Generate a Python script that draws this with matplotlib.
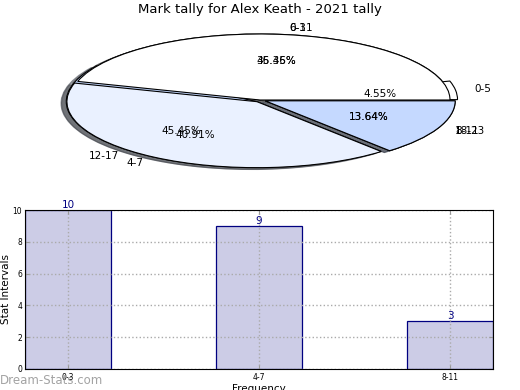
import matplotlib
matplotlib.use("Agg")
import matplotlib.pyplot as plt

title = "Mark tally for Alex Keath - 2021 tally"

# outer pie (drawn first)
pie_b_labels = ["0-5", "6-11", "12-17", "18-23"]
pie_b_values = [1, 8, 10, 3]
# front pie
pie_a_labels = ["0-3", "4-7", "8-11"]
pie_a_values = [10, 9, 3]

# bar chart
bar_labels = ["0-3", "4-7", "8-11"]
bar_values = [10, 9, 3]

fig = plt.figure(figsize=(5.2, 3.9), dpi=100)
fig.text(0.5, 1 - 10 / 390, title, ha="center", va="center", fontsize=9.5)

axp = fig.add_axes([22.5 / 520, 1 - 182.5 / 390, 475 / 520, 165 / 390])
colors_b = ["white", "#EAF1FF", "#C5D9FF", "#C5D9FF"]
colors_a = ["white", "#EAF1FF", "#C5D9FF"]
wp = dict(edgecolor="black", linewidth=0.8)
axp.pie(pie_b_values, labels=pie_b_labels, colors=colors_b, autopct="%1.2f%%",
        explode=[0.04, 0, 0.03, 0.03], shadow=True, startangle=0,
        wedgeprops=wp, textprops=dict(fontsize=7.5), pctdistance=0.6,
        labeldistance=1.1)
axp.pie(pie_a_values, labels=pie_a_labels, colors=colors_a, autopct="%1.2f%%",
        explode=[0, 0.03, 0.03], shadow=True, startangle=0,
        wedgeprops=wp, textprops=dict(fontsize=7.5), pctdistance=0.6,
        labeldistance=1.1)
axp.set_aspect("auto")
axp.set_xlim(-1.25, 1.25)
axp.set_ylim(-1.25, 1.25)
axp.axis("off")

axb = fig.add_axes([25 / 520, 1 - 369 / 390, 468 / 520, 159 / 390])
x = list(range(len(bar_labels)))
axb.bar(x, bar_values, width=0.45, color="#CCCCE6", edgecolor="#000080",
        linewidth=0.9, zorder=1)
for xi, v in zip(x, bar_values):
    axb.text(xi, v, str(v), ha="center", va="bottom", color="#000080",
             fontsize=7.5, zorder=4)
axb.set_xlim(-0.225, 2.225)
axb.set_ylim(0, 10)
axb.set_xticks(x)
axb.set_xticklabels(bar_labels, fontsize=5.5)
axb.set_yticks([0, 2, 4, 6, 8, 10])
axb.tick_params(axis="y", labelsize=5.5, pad=2)
axb.tick_params(axis="x", pad=3)
axb.tick_params(direction="in", top=True, right=True, length=3, color="#999999")
axb.grid(True, linestyle=":", color="#AAAAAA", linewidth=1.0)
axb.set_axisbelow("line")
axb.set_ylabel("Stat Intervals", fontsize=7.5, labelpad=1)
axb.set_xlabel("Frequency", fontsize=7.5, labelpad=1)

fig.text(0.0, 1 - 381 / 390, "Dream-Stats.com", ha="left", va="center",
         fontsize=8.5, color="#999999", alpha=0.9)

fig.savefig("out.png", dpi=100)
